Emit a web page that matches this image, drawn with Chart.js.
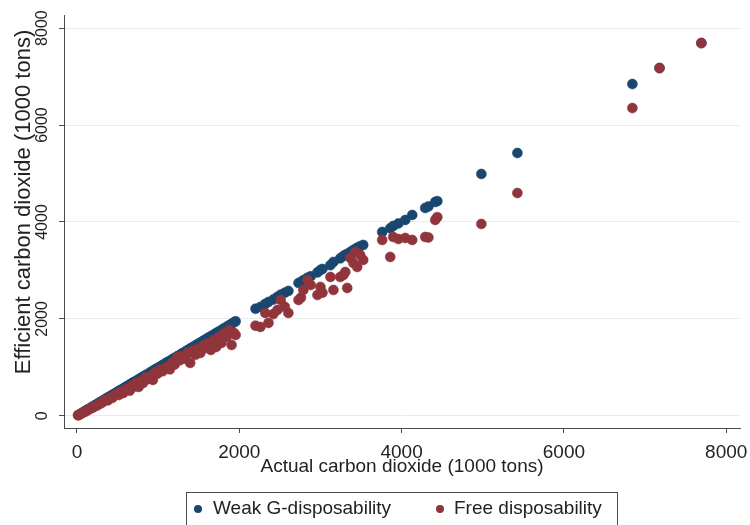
<!DOCTYPE html>
<html lang="en">
<head>
    <meta charset="UTF-8">
    <title>Efficient vs actual carbon dioxide</title>
    <script src="https://cdn.jsdelivr.net/npm/chart.js"></script>
    <style>
        body { margin: 0; background: #fff; }
        #wrap { width: 750px; height: 525px; position: relative; }
    </style>
</head>
<body>
    <div id="wrap"><canvas id="chart"></canvas></div>

    <script>
        // actual emissions (x) and the two efficient levels
        const actual = [
            15, 40, 65, 90, 115, 140, 170, 195, 220, 250, 275, 300, 330, 355, 380, 410, 435, 460, 490, 515,
            540, 570, 595, 620, 650, 675, 700, 730, 760, 790, 815, 845, 875, 905, 935, 965, 990, 1020, 1055, 1085,
            1115, 1145, 1175, 1205, 1240, 1270, 1300, 1335, 1365, 1395, 1430, 1460, 1490, 1520, 1555, 1585, 1615, 1650, 1680, 1715,
            1745, 1780, 1810, 1845, 1875, 1905, 1935, 1955,
            2200, 2260, 2320, 2360, 2420, 2470, 2510, 2560, 2605, 2730, 2760, 2790, 2840, 2880, 2963, 3000, 3025, 3123, 3160, 3244,
            3283, 3306, 3330, 3368, 3406, 3431, 3453, 3490, 3527,
            3761, 3860, 3897, 3960, 4045, 4131, 4291, 4330, 4414, 4440,
            4983, 5427, 6844, 7178, 7694
        ];
        const weakG = [
            15, 40, 64, 90, 114, 140, 168, 195, 219, 248, 275, 298, 328, 354, 378, 407, 433, 458, 487, 512,
            538, 566, 592, 618, 646, 672, 697, 726, 756, 786, 811, 840, 870, 901, 930, 960, 985, 1015, 1050, 1080,
            1110, 1138, 1170, 1200, 1233, 1262, 1295, 1328, 1358, 1390, 1425, 1452, 1485, 1515, 1548, 1578, 1610, 1642, 1672, 1708,
            1738, 1772, 1805, 1838, 1868, 1900, 1930, 1950,
            2210, 2248, 2310, 2351, 2400, 2455, 2500, 2540, 2578, 2742, 2760, 2800, 2850, 2880, 2960, 3010, 3031, 3110, 3175, 3250,
            3300, 3320, 3340, 3380, 3423, 3440, 3470, 3500, 3526,
            3794, 3870, 3918, 3970, 4042, 4145, 4289, 4320, 4413, 4430,
            4990, 5423, 6845, 7175, 7691
        ];
        const freeD = [
            13, 34, 60, 78, 100, 124, 155, 170, 200, 215, 250, 262, 300, 330, 320, 375, 370, 420, 450, 430,
            500, 470, 540, 560, 520, 620, 600, 680, 598, 720, 680, 790, 760, 820, 742, 900, 870, 950, 920, 990,
            1010, 960, 1100, 1060, 1217, 1150, 1230, 1180, 1300, 1093, 1350, 1260, 1390, 1299, 1450, 1400, 1500, 1361, 1560, 1423,
            1620, 1505, 1700, 1629, 1773, 1464, 1711, 1670,
            1860, 1835, 2124, 1918, 2100, 2186, 2392, 2250, 2124, 2392, 2440, 2598, 2804, 2700, 2495, 2660, 2540, 2866, 2598, 2866,
            2907, 2969, 2639, 3258, 3155, 3382, 3072, 3320, 3217,
            3629, 3279, 3691, 3650, 3670, 3629, 3691, 3680, 4042, 4100,
            3959, 4598, 6350, 7175, 7691
        ];

        const xTicks = [0, 2000, 4000, 6000, 8000];
        const yTicks = [0, 2000, 4000, 6000, 8000];
        const seriesNames = ['Weak G-disposability', 'Free disposability'];
        const seriesColors = ['#1a476f', '#90353b'];

        const FONT = "'Liberation Sans', Arial, sans-serif";
        const TEXT = '#222';
        const AXIS = '#4a4a4a';

        function toPoints(ys) {
            return actual.map((x, i) => ({ x: x, y: ys[i] }));
        }

        // y labels are rotated (Stata style), y title and bordered legend drawn here
        const stataBits = {
            id: 'stataBits',
            afterDraw(chart) {
                const ctx = chart.ctx;
                const ys = chart.scales.y;
                ctx.save();
                ctx.fillStyle = TEXT;
                ctx.textAlign = 'center';
                ctx.textBaseline = 'alphabetic';

                ctx.font = '16px ' + FONT;
                yTicks.forEach(v => {
                    const py = ys.getPixelForValue(v);
                    ctx.save();
                    ctx.translate(47, py);
                    ctx.rotate(-Math.PI / 2);
                    ctx.fillText(String(v), 0, 0);
                    ctx.restore();
                });

                ctx.font = '22px ' + FONT;
                ctx.save();
                ctx.translate(30, 202);
                ctx.rotate(-Math.PI / 2);
                ctx.fillText('Efficient carbon dioxide (1000 tons)', 0, 0);
                ctx.restore();

                // legend
                ctx.strokeStyle = AXIS;
                ctx.lineWidth = 1;
                ctx.strokeRect(186.5, 492.5, 431, 45);
                ctx.font = '19px ' + FONT;
                ctx.textAlign = 'left';
                ctx.textBaseline = 'middle';
                const items = [[198, 213], [440, 454]];
                items.forEach((it, i) => {
                    ctx.fillStyle = seriesColors[i];
                    ctx.beginPath();
                    ctx.arc(it[0], 509, 4, 0, Math.PI * 2);
                    ctx.fill();
                    ctx.fillStyle = TEXT;
                    ctx.fillText(seriesNames[i], it[1], 509);
                });
                ctx.restore();
            }
        };

        const ctx = document.getElementById('chart').getContext('2d');
        const chart = new Chart(ctx, {
            type: 'scatter',
            data: {
                datasets: [{
                    label: seriesNames[0],
                    data: toPoints(weakG),
                    backgroundColor: seriesColors[0],
                    borderColor: seriesColors[0],
                    pointRadius: 5,
                    borderWidth: 0.5,
                    order: 1
                }, {
                    label: seriesNames[1],
                    data: toPoints(freeD),
                    backgroundColor: seriesColors[1],
                    borderColor: seriesColors[1],
                    pointRadius: 5,
                    borderWidth: 0.5,
                    order: 0
                }]
            },
            options: {
                responsive: true,
                maintainAspectRatio: false,
                animation: false,
                layout: { padding: { top: 15, right: 10, bottom: 45, left: 0 } },
                plugins: {
                    legend: { display: false },
                    tooltip: { enabled: false }
                },
                scales: {
                    x: {
                        type: 'linear',
                        min: -160,
                        max: 8170,
                        afterBuildTicks: s => { s.ticks = xTicks.map(v => ({ value: v })); },
                        afterFit: s => {
                            s.height = 52;
                            s.paddingLeft = 0;
                            s.paddingRight = 0;
                        },
                        grid: {
                            drawOnChartArea: false,
                            drawTicks: true,
                            tickLength: 5,
                            tickColor: AXIS
                        },
                        border: { display: true, color: AXIS, width: 1 },
                        ticks: {
                            font: { family: FONT, size: 19 },
                            color: TEXT,
                            padding: 8,
                            maxRotation: 0,
                            callback: v => String(v)
                        },
                        title: {
                            display: true,
                            text: 'Actual carbon dioxide (1000 tons)',
                            font: { family: FONT, size: 19 },
                            color: TEXT,
                            padding: { top: 0, bottom: 2 }
                        }
                    },
                    y: {
                        type: 'linear',
                        min: -250,
                        max: 8270,
                        afterBuildTicks: s => { s.ticks = yTicks.map(v => ({ value: v })); },
                        afterFit: s => { s.width = 64; },
                        grid: {
                            color: '#e9ecee',
                            lineWidth: 1,
                            drawTicks: true,
                            tickLength: 5,
                            tickColor: AXIS
                        },
                        border: { display: true, color: AXIS, width: 1 },
                        ticks: { display: false }
                    }
                }
            },
            plugins: [stataBits]
        });
    </script>
</body>
</html>
